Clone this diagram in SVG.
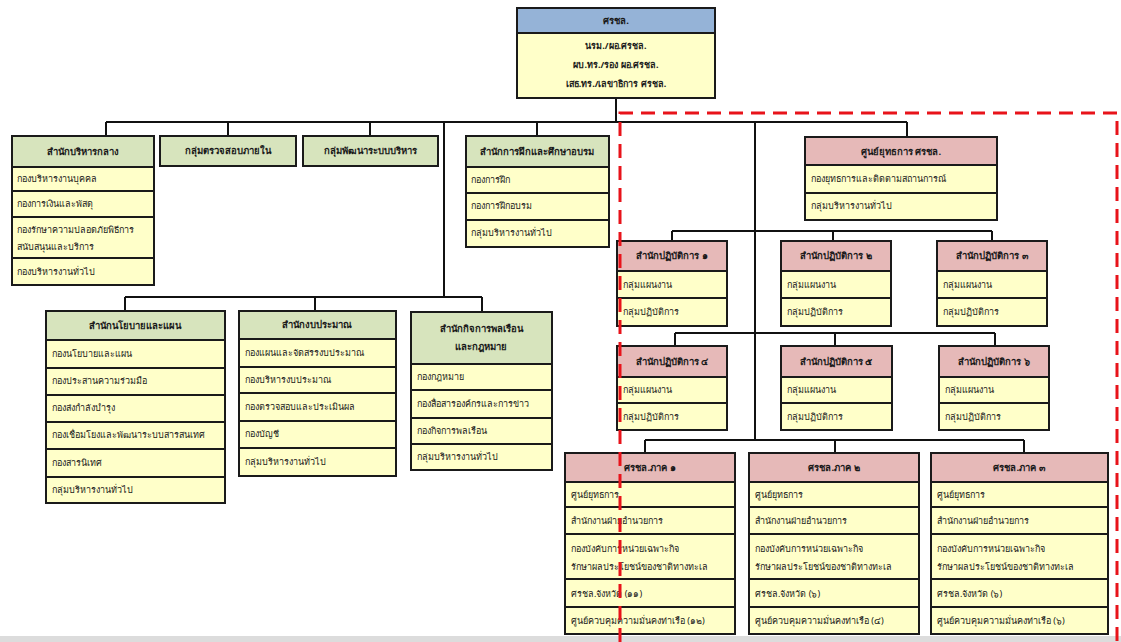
<svg xmlns="http://www.w3.org/2000/svg" width="1121" height="642" viewBox="0 0 1121 642">
<style>
.b{stroke:#1a1a1a;stroke-width:2}
.hb{fill:#95b3d7}
.hg{fill:#d7e4bd}
.hp{fill:#e6b9b8}
.it{fill:#ffffc9}
.ln{stroke:#111;stroke-width:2;fill:none}
text{font-family:"Noto Sans","DejaVu Sans",sans-serif;fill:#1a1a1a}
.t{font-size:9.5px;font-weight:bold;text-anchor:middle}
.c{font-size:9px;font-weight:bold;text-anchor:middle}
.l{font-size:9px}
.red{stroke:#e8131a;stroke-width:3;fill:none;stroke-dasharray:14 8}
</style>
<rect x="0" y="0" width="1121" height="642" fill="#ffffff"/>
<rect x="0" y="636" width="1121" height="6" fill="#dcdcdc"/>

<g id="connectors">
<path class="ln" d="M616 98V122M106 122H907M106 122V136M228 122V136M370 122V136M537 122V136M907 122V137"/>
<path class="ln" d="M444 122V297M125 297H482M125 297V311M315 297V311M482 297V312"/>
<path class="ln" d="M755 122V440M672 231H992M672 231V241M833 231V241M992 231V241"/>
<path class="ln" d="M675 333H995M675 333V346M835 333V346M995 333V346"/>
<path class="ln" d="M645 440H1024M645 440V453M835 440V453M1024 440V453"/>
</g>

<g id="top">
<rect class="hb b" x="517" y="8" width="198" height="25"/>
<rect class="it b" x="517" y="33" width="198" height="65"/>
<text class="t" x="616" y="24">ศรชล.</text>
<text class="c" x="616" y="49">นรม./ผอ.ศรชล.</text>
<text class="c" x="616" y="68">ผบ.ทร./รอง ผอ.ศรชล.</text>
<text class="c" x="616" y="87">เสธ.ทร./เลขาธิการ ศรชล.</text>
</g>

<g id="central-admin">
<rect class="hg b" x="12" y="136" width="142" height="31"/>
<rect class="it b" x="12" y="167" width="142" height="24"/>
<rect class="it b" x="12" y="191" width="142" height="26"/>
<rect class="it b" x="12" y="217" width="142" height="41"/>
<rect class="it b" x="12" y="258" width="142" height="27"/>
<text class="t" x="83" y="155">สำนักบริหารกลาง</text>
<text class="l" x="17" y="182">กองบริหารงานบุคคล</text>
<text class="l" x="17" y="207">กองการเงินและพัสดุ</text>
<text class="l" x="17" y="233">กองรักษาความปลอดภัยพิธีการ</text>
<text class="l" x="17" y="250">สนับสนุนและบริการ</text>
<text class="l" x="17" y="275">กองบริหารงานทั่วไป</text>
</g>

<g id="internal-audit">
<rect class="hg b" x="160" y="136" width="136" height="30"/>
<text class="t" x="228" y="154">กลุ่มตรวจสอบภายใน</text>
</g>

<g id="admin-dev">
<rect class="hg b" x="303" y="136" width="135" height="30"/>
<text class="t" x="370" y="154">กลุ่มพัฒนาระบบบริหาร</text>
</g>

<g id="training">
<rect class="hg b" x="466" y="136" width="143" height="31"/>
<rect class="it b" x="466" y="167" width="143" height="26"/>
<rect class="it b" x="466" y="193" width="143" height="27"/>
<rect class="it b" x="466" y="220" width="143" height="27"/>
<text class="t" x="537" y="155">สำนักการฝึกและศึกษาอบรม</text>
<text class="l" x="471" y="183">กองการฝึก</text>
<text class="l" x="471" y="209">กองการฝึกอบรม</text>
<text class="l" x="471" y="236">กลุ่มบริหารงานทั่วไป</text>
</g>

<g id="ops-center">
<rect class="hp b" x="805" y="137" width="192" height="28"/>
<rect class="it b" x="805" y="165" width="192" height="28"/>
<rect class="it b" x="805" y="193" width="192" height="27"/>
<text class="t" x="901" y="155">ศูนย์ยุทธการ ศรชล.</text>
<text class="l" x="811" y="182">กองยุทธการและติดตามสถานการณ์</text>
<text class="l" x="811" y="209">กลุ่มบริหารงานทั่วไป</text>
</g>

<g id="policy">
<rect class="hg b" x="46" y="311" width="179" height="29"/>
<rect class="it b" x="46" y="340" width="179" height="28"/>
<rect class="it b" x="46" y="368" width="179" height="27"/>
<rect class="it b" x="46" y="395" width="179" height="27"/>
<rect class="it b" x="46" y="422" width="179" height="27"/>
<rect class="it b" x="46" y="449" width="179" height="28"/>
<rect class="it b" x="46" y="477" width="179" height="26"/>
<text class="t" x="135" y="329">สำนักนโยบายและแผน</text>
<text class="l" x="52" y="357">กองนโยบายและแผน</text>
<text class="l" x="52" y="384">กองประสานความร่วมมือ</text>
<text class="l" x="52" y="411">กองส่งกำลังบำรุง</text>
<text class="l" x="52" y="438">กองเชื่อมโยงและพัฒนาระบบสารสนเทศ</text>
<text class="l" x="52" y="466">กองสารนิเทศ</text>
<text class="l" x="52" y="493">กลุ่มบริหารงานทั่วไป</text>
</g>

<g id="budget">
<rect class="hg b" x="239" y="311" width="157" height="28"/>
<rect class="it b" x="239" y="339" width="157" height="28"/>
<rect class="it b" x="239" y="367" width="157" height="26"/>
<rect class="it b" x="239" y="393" width="157" height="28"/>
<rect class="it b" x="239" y="421" width="157" height="27"/>
<rect class="it b" x="239" y="448" width="157" height="28"/>
<text class="t" x="317" y="328">สำนักงบประมาณ</text>
<text class="l" x="245" y="356">กองแผนและจัดสรรงบประมาณ</text>
<text class="l" x="245" y="383">กองบริหารงบประมาณ</text>
<text class="l" x="245" y="410">กองตรวจสอบและประเมินผล</text>
<text class="l" x="245" y="437">กองบัญชี</text>
<text class="l" x="245" y="465">กลุ่มบริหารงานทั่วไป</text>
</g>

<g id="civil-law">
<rect class="hg b" x="411" y="312" width="141" height="52"/>
<rect class="it b" x="411" y="364" width="141" height="26"/>
<rect class="it b" x="411" y="390" width="141" height="28"/>
<rect class="it b" x="411" y="418" width="141" height="26"/>
<rect class="it b" x="411" y="444" width="141" height="26"/>
<text class="t" x="481" y="332">สำนักกิจการพลเรือน</text>
<text class="t" x="481" y="350">และกฎหมาย</text>
<text class="l" x="417" y="380">กองกฎหมาย</text>
<text class="l" x="417" y="407">กองสื่อสารองค์กรและการข่าว</text>
<text class="l" x="417" y="434">กองกิจการพลเรือน</text>
<text class="l" x="417" y="460">กลุ่มบริหารงานทั่วไป</text>
</g>

<g id="ops1">
<rect class="hp b" x="617" y="241" width="110" height="30"/>
<rect class="it b" x="617" y="271" width="110" height="27"/>
<rect class="it b" x="617" y="298" width="110" height="28"/>
<text class="t" x="672" y="259">สำนักปฏิบัติการ ๑</text>
<text class="l" x="623" y="288">กลุ่มแผนงาน</text>
<text class="l" x="623" y="315">กลุ่มปฏิบัติการ</text>
</g>
<g id="ops2">
<rect class="hp b" x="781" y="241" width="110" height="30"/>
<rect class="it b" x="781" y="271" width="110" height="27"/>
<rect class="it b" x="781" y="298" width="110" height="28"/>
<text class="t" x="836" y="259">สำนักปฏิบัติการ ๒</text>
<text class="l" x="787" y="288">กลุ่มแผนงาน</text>
<text class="l" x="787" y="315">กลุ่มปฏิบัติการ</text>
</g>
<g id="ops3">
<rect class="hp b" x="937" y="241" width="110" height="30"/>
<rect class="it b" x="937" y="271" width="110" height="27"/>
<rect class="it b" x="937" y="298" width="110" height="28"/>
<text class="t" x="992" y="259">สำนักปฏิบัติการ ๓</text>
<text class="l" x="943" y="288">กลุ่มแผนงาน</text>
<text class="l" x="943" y="315">กลุ่มปฏิบัติการ</text>
</g>
<g id="ops4">
<rect class="hp b" x="617" y="346" width="110" height="31"/>
<rect class="it b" x="617" y="377" width="110" height="26"/>
<rect class="it b" x="617" y="403" width="110" height="27"/>
<text class="t" x="672" y="365">สำนักปฏิบัติการ ๔</text>
<text class="l" x="623" y="393">กลุ่มแผนงาน</text>
<text class="l" x="623" y="420">กลุ่มปฏิบัติการ</text>
</g>
<g id="ops5">
<rect class="hp b" x="781" y="346" width="111" height="31"/>
<rect class="it b" x="781" y="377" width="111" height="26"/>
<rect class="it b" x="781" y="403" width="111" height="27"/>
<text class="t" x="836" y="365">สำนักปฏิบัติการ ๕</text>
<text class="l" x="787" y="393">กลุ่มแผนงาน</text>
<text class="l" x="787" y="420">กลุ่มปฏิบัติการ</text>
</g>
<g id="ops6">
<rect class="hp b" x="939" y="346" width="110" height="31"/>
<rect class="it b" x="939" y="377" width="110" height="26"/>
<rect class="it b" x="939" y="403" width="110" height="27"/>
<text class="t" x="994" y="365">สำนักปฏิบัติการ ๖</text>
<text class="l" x="945" y="393">กลุ่มแผนงาน</text>
<text class="l" x="945" y="420">กลุ่มปฏิบัติการ</text>
</g>

<g id="region1">
<rect class="hp b" x="565" y="453" width="170" height="29"/>
<rect class="it b" x="565" y="482" width="170" height="25"/>
<rect class="it b" x="565" y="507" width="170" height="27"/>
<rect class="it b" x="565" y="534" width="170" height="45"/>
<rect class="it b" x="565" y="579" width="170" height="28"/>
<rect class="it b" x="565" y="607" width="170" height="27"/>
<text class="t" x="650" y="471">ศรชล.ภาค ๑</text>
<text class="l" x="571" y="498">ศูนย์ยุทธการ</text>
<text class="l" x="571" y="524">สำนักงานฝ่ายอำนวยการ</text>
<text class="l" x="571" y="552">กองบังคับการหน่วยเฉพาะกิจ</text>
<text class="l" x="571" y="570">รักษาผลประโยชน์ของชาติทางทะเล</text>
<text class="l" x="571" y="597">ศรชล.จังหวัด (๑๑)</text>
<text class="l" x="571" y="624">ศูนย์ควบคุมความมั่นคงท่าเรือ (๑๒)</text>
</g>
<g id="region2">
<rect class="hp b" x="749" y="453" width="170" height="29"/>
<rect class="it b" x="749" y="482" width="170" height="25"/>
<rect class="it b" x="749" y="507" width="170" height="27"/>
<rect class="it b" x="749" y="534" width="170" height="45"/>
<rect class="it b" x="749" y="579" width="170" height="28"/>
<rect class="it b" x="749" y="607" width="170" height="27"/>
<text class="t" x="834" y="471">ศรชล.ภาค ๒</text>
<text class="l" x="755" y="498">ศูนย์ยุทธการ</text>
<text class="l" x="755" y="524">สำนักงานฝ่ายอำนวยการ</text>
<text class="l" x="755" y="552">กองบังคับการหน่วยเฉพาะกิจ</text>
<text class="l" x="755" y="570">รักษาผลประโยชน์ของชาติทางทะเล</text>
<text class="l" x="755" y="597">ศรชล.จังหวัด (๖)</text>
<text class="l" x="755" y="624">ศูนย์ควบคุมความมั่นคงท่าเรือ (๔)</text>
</g>
<g id="region3">
<rect class="hp b" x="931" y="453" width="177" height="29"/>
<rect class="it b" x="931" y="482" width="177" height="25"/>
<rect class="it b" x="931" y="507" width="177" height="27"/>
<rect class="it b" x="931" y="534" width="177" height="45"/>
<rect class="it b" x="931" y="579" width="177" height="28"/>
<rect class="it b" x="931" y="607" width="177" height="27"/>
<text class="t" x="1019" y="471">ศรชล.ภาค ๓</text>
<text class="l" x="937" y="498">ศูนย์ยุทธการ</text>
<text class="l" x="937" y="524">สำนักงานฝ่ายอำนวยการ</text>
<text class="l" x="937" y="552">กองบังคับการหน่วยเฉพาะกิจ</text>
<text class="l" x="937" y="570">รักษาผลประโยชน์ของชาติทางทะเล</text>
<text class="l" x="937" y="597">ศรชล.จังหวัด (๖)</text>
<text class="l" x="937" y="624">ศูนย์ควบคุมความมั่นคงท่าเรือ (๖)</text>
</g>

<g id="operations-boundary">
<path class="red" d="M620 642V113H1117V642"/>
</g>
</svg>
